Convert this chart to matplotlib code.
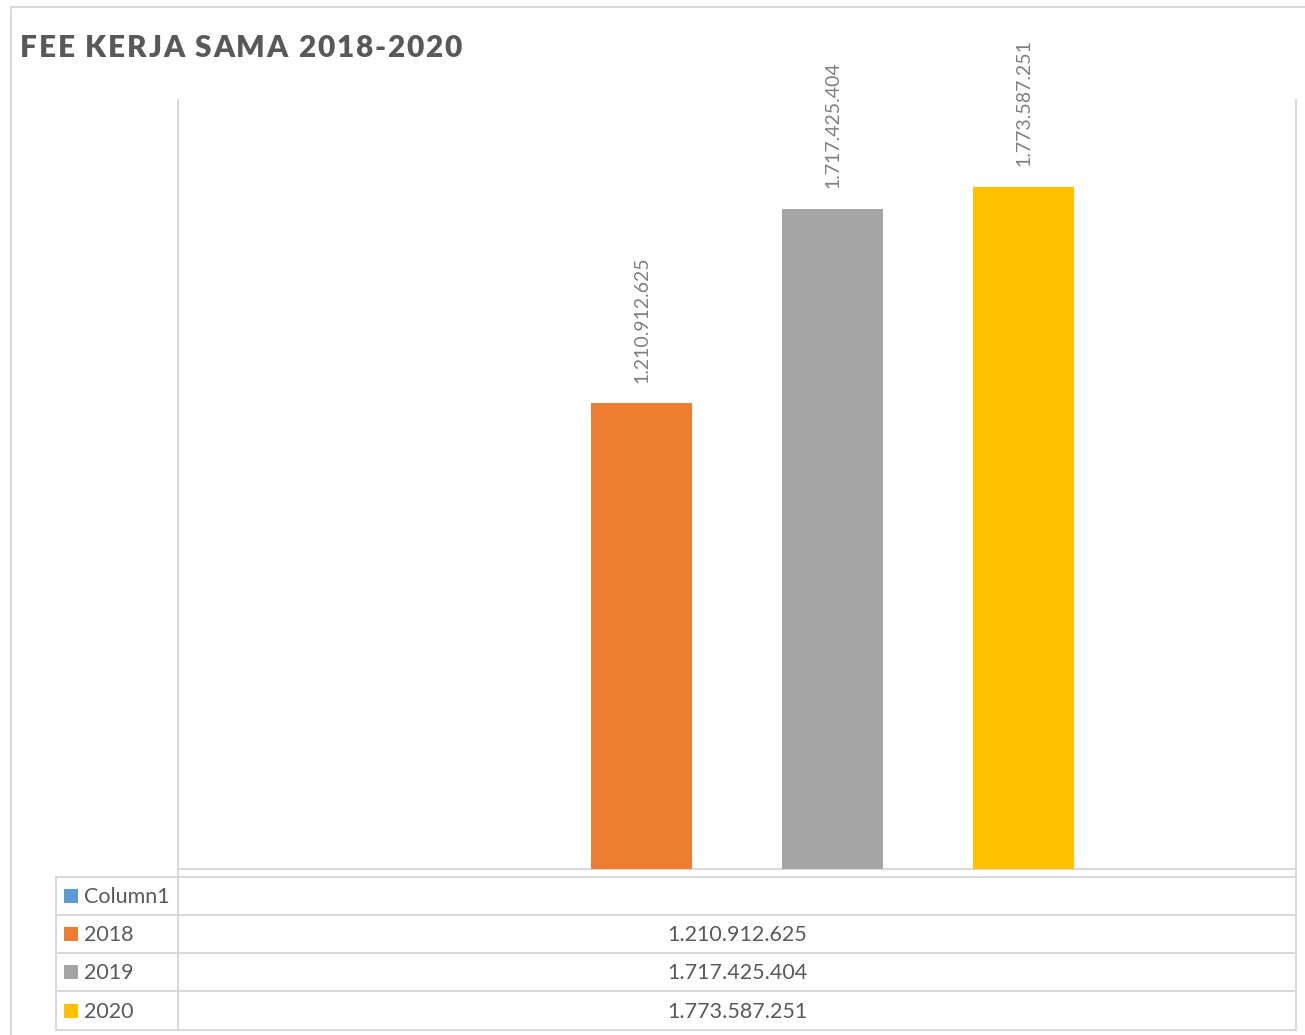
import matplotlib
matplotlib.use("Agg")
import matplotlib.pyplot as plt

series = ["Column1", "2018", "2019", "2020"]
values = [None, 1210912625, 1717425404, 1773587251]
colors = ["#5B9BD5", "#ED7D31", "#A5A5A5", "#FFC000"]
title = "FEE KERJA SAMA 2018-2020"

W, H = 1305, 1035
plt.rcParams['font.family'] = ['Lato', 'DejaVu Sans']
fig = plt.figure(figsize=(W / 100, H / 100), dpi=100)

# background layer in pixel coords for frame + data table
bg = fig.add_axes([0, 0, 1, 1], zorder=0)
bg.set_xlim(0, W)
bg.set_ylim(H, 0)
bg.axis("off")

line_c = "#D9D9D9"
txt_c = "#595959"


def fmt(v):
    return f"{v:,}".replace(",", ".")


# chart border
bg.plot([11, 11], [7, H], color=line_c, lw=1.5)
bg.plot([11, W], [7, 7], color=line_c, lw=1.5)

# plot area geometry (pixels)
left, right, top, base = 178, 1296, 100, 869
rows = [877, 915, 953, 991, 1030]
tleft = 56

bg.plot([left, left], [top, rows[-1]], color=line_c, lw=1.5)
bg.plot([right, right], [top, rows[-1]], color=line_c, lw=1.5)
bg.plot([left, right], [base, base], color=line_c, lw=1.5)
for y in rows:
    bg.plot([tleft, right], [y, y], color=line_c, lw=1.5)
bg.plot([tleft, tleft], [rows[0], rows[-1]], color=line_c, lw=1.5)

for i, (name, v, c) in enumerate(zip(series, values, colors)):
    yc = (rows[i] + rows[i + 1]) / 2
    bg.add_patch(plt.Rectangle((64, yc - 7), 14, 14, color=c, lw=0))
    bg.text(84, yc + 1, name, fontsize=15.5, color=txt_c, va="center", ha="left")
    if v is not None:
        bg.text((left + right) / 2, yc + 1, fmt(v), fontsize=15.5, color=txt_c,
                va="center", ha="center")

# title with letter spacing (drawn char by char)
renderer = fig.canvas.get_renderer()
tkw = dict(fontsize=21.5, fontweight="heavy", color=txt_c, va="center", ha="left")


def text_w(s):
    t = bg.text(0, 0, s + "|", **tkw)
    w = t.get_window_extent(renderer).width
    t.remove()
    t = bg.text(0, 0, "|", **tkw)
    w -= t.get_window_extent(renderer).width
    t.remove()
    return w


full = text_w(title)
spacing = (442 - full) / (len(title) - 1)
for i, ch in enumerate(title):
    if ch == " ":
        continue
    bg.text(20 + text_w(title[:i]) + i * spacing, 48, ch, **tkw)

# bars
ax = fig.add_axes([left / W, 1 - base / H, (right - left) / W, (base - top) / H], zorder=1)
ax.patch.set_alpha(0)
ax.set_xlim(0, 1)
ax.set_ylim(0, 2.0e9)
ax.axis("off")

step = 191 / 1118
bw = 101 / 1118
for i, (v, c) in enumerate(zip(values, colors)):
    if v is None:
        continue
    xc = 0.5 + (i - 1.5) * step
    ax.bar(xc, v, width=bw, color=c, lw=0)
    ax.annotate(fmt(v), (xc, v), xytext=(0, 15), textcoords="offset points",
                rotation=90, ha="center", va="bottom", fontsize=14, color="#7F7F7F")

fig.savefig("out.png", dpi=100)
